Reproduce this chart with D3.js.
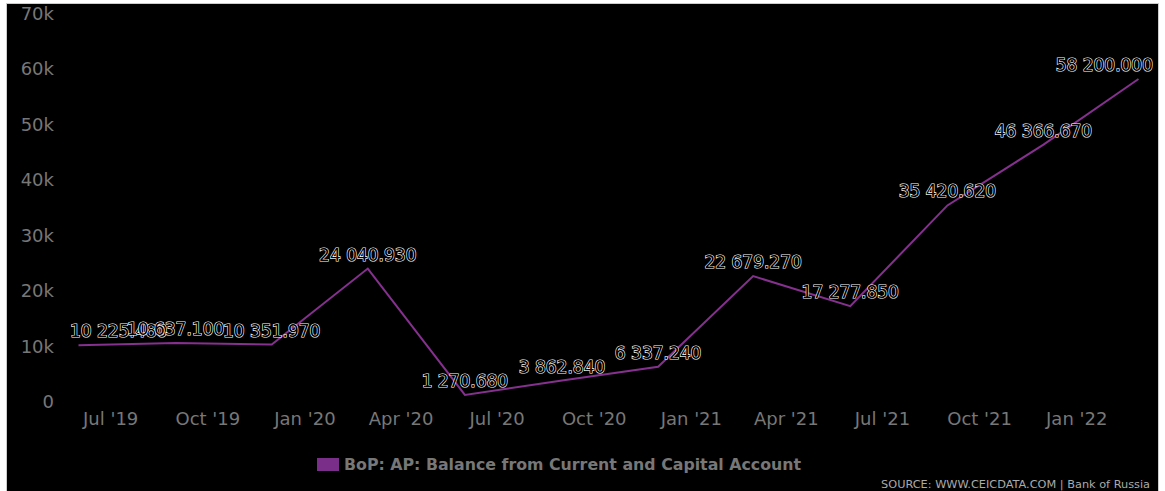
<!DOCTYPE html>
<html lang="en">
    <head>
        <meta charset="utf-8">
        <title>BoP: AP: Balance from Current and Capital Account</title>
        <script src="https://d3js.org/d3.v7.min.js"></script>
        <style type="text/css">
            body {
                margin: 0;
                background: #fff;
            }
            text {
                font-family: "DejaVu Sans", sans-serif;
            }
            .axis text {
                font-size: 18px;
                fill: #777;
            }
            .line {
                fill: none;
                stroke: #86308f;
                stroke-width: 2px;
            }
            .label {
                font-size: 17px;
                fill: #000;
                stroke: #fff;
                stroke-width: 1.2px;
                paint-order: stroke;
                text-anchor: middle;
            }
        </style>
    </head>

    <body>
        <script type="text/javascript">

            const w = 1165;
            const h = 491;

            // quarterly observations
            const dates = ["2019-06-01", "2019-09-01", "2019-12-01", "2020-03-01",
                           "2020-06-01", "2020-09-01", "2020-12-01", "2021-03-01",
                           "2021-06-01", "2021-09-01", "2021-12-01", "2022-03-01"];
            const values = [10225.48, 10637.1, 10351.97, 24040.93,
                            1270.68, 3862.84, 6337.24, 22679.27,
                            17277.85, 35420.62, 46366.67, 58200];
            const xTicks = ["2019-07-01", "2019-10-01", "2020-01-01", "2020-04-01",
                            "2020-07-01", "2020-10-01", "2021-01-01", "2021-04-01",
                            "2021-07-01", "2021-10-01", "2022-01-01"];
            const yTicks = [0, 10000, 20000, 30000, 40000, 50000, 60000, 70000];
            const seriesName = "BoP: AP: Balance from Current and Capital Account";
            const sourceText = "SOURCE: WWW.CEICDATA.COM | Bank of Russia";

            const parseDate = d3.timeParse("%Y-%m-%d");
            const data = dates.map((d, i) => ({date: parseDate(d), value: values[i]}));

            const xScale = d3.scaleTime()
                             .domain([parseDate(dates[0]), parseDate(dates[dates.length - 1])])
                             .range([78.5, 1138.5]);

            const yScale = d3.scaleLinear()
                             .domain([0, 70000])
                             .range([402, 13.5]);

            // labels are kept inside the plot band
            const plotLeft = 70;
            const plotRight = 1153;

            const svg = d3.select("body")
                          .append("svg")
                          .attr("width", w)
                          .attr("height", h)
                          .style("display", "block");

            // chart background
            svg.append("rect")
               .attr("x", 6.5)
               .attr("y", 3.5)
               .attr("width", 1152)
               .attr("height", 495)
               .attr("fill", "#000")
               .attr("stroke", "#ccc")
               .attr("stroke-width", 1);

            // Bottom axis
            const fmtMonth = d3.timeFormat("%b '%y");
            const bottomAxis = d3.axisBottom(xScale)
                                 .tickValues(xTicks.map(parseDate))
                                 .tickFormat(fmtMonth)
                                 .tickSize(0)
                                 .tickPadding(0);

            const gx = svg.append("g")
               .attr("class", "axis")
               .attr("transform", "translate(0,412)")
               .call(bottomAxis);
            gx.select(".domain").remove();

            // Left axis
            const leftAxis = d3.axisLeft(yScale)
                               .tickValues(yTicks)
                               .tickFormat(d => d === 0 ? "0" : (d / 1000) + "k")
                               .tickSize(0)
                               .tickPadding(0);

            const gy = svg.append("g")
               .attr("class", "axis")
               .attr("transform", "translate(54,0)")
               .call(leftAxis);
            gy.select(".domain").remove();

            // Line
            const line = d3.line()
                           .x(d => xScale(d.date))
                           .y(d => yScale(d.value));

            svg.append("path")
               .datum(data)
               .attr("class", "line")
               .attr("d", line);

            // Data labels
            const fmtValue = d => d3.format(",.3f")(d).replace(/,/g, " ");

            svg.selectAll(".label")
               .data(data)
               .join("text")
               .attr("class", "label")
               .attr("x", d => xScale(d.date))
               .attr("y", d => yScale(d.value) - 8)
               .text(d => fmtValue(d.value))
               .each(function() {
                   // shift labels that would stick out of the plot band
                   const bb = this.getBBox();
                   const cx = +this.getAttribute("x");
                   let nx = cx;
                   if (bb.x < plotLeft) nx = cx + (plotLeft - bb.x);
                   if (bb.x + bb.width > plotRight) nx = cx - (bb.x + bb.width - plotRight);
                   this.setAttribute("x", nx);
               });

            // Legend
            svg.append("rect")
               .attr("x", 317)
               .attr("y", 458)
               .attr("width", 22)
               .attr("height", 13)
               .attr("fill", "#7b2d8a");

            svg.append("text")
               .attr("x", 344)
               .attr("y", 470)
               .attr("font-size", 15.8)
               .attr("font-weight", "bold")
               .attr("fill", "#777")
               .text(seriesName);

            // Source
            svg.append("text")
               .attr("x", 1150)
               .attr("y", 488)
               .attr("text-anchor", "end")
               .attr("font-size", 11.3)
               .attr("fill", "#aaa")
               .text(sourceText);

        </script>
    </body>
</html>
